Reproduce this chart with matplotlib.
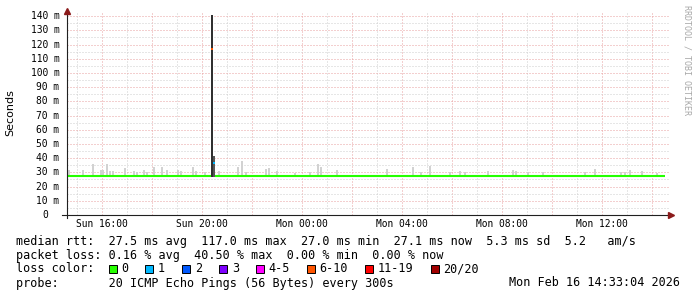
import numpy as np
import matplotlib
matplotlib.use('Agg')
import matplotlib.pyplot as plt
from matplotlib.patches import Rectangle
from matplotlib.ticker import MultipleLocator
import matplotlib.transforms as mtransforms

# Datos (horas contadas desde el domingo 00:00, valores en ms)
horas_humo = [14.68, 15.24, 15.64, 15.96, 16.04, 16.20, 16.32, 16.44, 16.92, 17.28,
              17.40, 17.68, 17.80, 18.08, 18.40, 18.60, 19.04, 19.16, 19.64, 19.76,
              20.12, 20.68, 21.44, 21.60, 21.76, 22.56, 22.68, 23.00, 23.72, 24.32,
              24.64, 24.76, 25.40, 27.40, 28.44, 28.76, 29.12, 29.92, 30.32, 30.52,
              31.44, 32.44, 32.56, 33.04, 33.64, 35.32, 35.72, 36.76, 36.92, 37.12,
              37.60, 38.20]
tope_humo = [31.6, 32.0, 35.9, 32.0, 32.0, 35.7, 31.0, 31.0, 33.0, 31.0,
             30.5, 31.6, 30.5, 34.0, 33.6, 32.0, 32.0, 31.0, 33.6, 31.0,
             30.0, 31.0, 34.0, 38.0, 30.5, 32.4, 33.0, 31.0, 29.4, 30.0,
             35.7, 34.0, 31.7, 32.4, 33.8, 30.0, 34.7, 30.5, 31.3, 30.5,
             31.3, 31.7, 31.0, 30.5, 30.0, 30.0, 32.4, 30.5, 30.5, 31.7,
             31.0, 29.3]
mediana_t = [14.62, 20.36, 20.44, 20.52, 38.52]
mediana_v = [27.3, 27.3, np.nan, 27.2, 27.2]
# muestras con perdida de paquetes
pico_t = [20.36, 20.44]
pico_tope = [140.5, 41.5]
pico_mediana = [117.0, 36.6]
pico_color = ['#ff5500', '#00b8ff']
pico_gris = ['#303030', '#555555']

ticks_x = [16, 20, 24, 28, 32, 36]
etiquetas_x = ['Sun 16:00', 'Sun 20:00', 'Mon 00:00', 'Mon 04:00', 'Mon 08:00', 'Mon 12:00']
ticks_y = list(range(0, 141, 10))

perdida_etiquetas = ['0', '1', '2', '3', '4-5', '6-10', '11-19', '20/20']
perdida_colores = ['#26ff00', '#00b8ff', '#0059ff', '#7e00ff', '#ff00ff', '#ff5500', '#ff0000', '#a10000']

W, H = 697, 297
def fx(px):
    return px / W
def fy(py):
    return 1 - py / H

fig = plt.figure(figsize=(W / 100, H / 100), dpi=100)
fig.patch.set_facecolor('white')
ax = fig.add_axes([fx(67), fy(215), fx(669) - fx(67), fy(12) - fy(215)])
ax.set_xlim(14.6, 38.68)
ax.set_ylim(0, 142.9)

# grilla punteada
ax.xaxis.set_major_locator(MultipleLocator(2))
ax.xaxis.set_minor_locator(MultipleLocator(1))
ax.yaxis.set_major_locator(MultipleLocator(10))
ax.yaxis.set_minor_locator(MultipleLocator(5))
ax.grid(which='major', color='#e8a0a0', lw=0.72, ls=(0, (1, 2)), snap=True)
ax.grid(which='minor', color='#cfcfcf', lw=0.72, ls=(0, (1, 2)), snap=True)
ax.set_axisbelow(True)
ax.tick_params(which='both', length=0, labelleft=False, labelbottom=False)
for s in ax.spines.values():
    s.set_visible(False)

# humo
ancho = 5 / 60
base = 26.5
ax.bar(horas_humo, np.array(tope_humo) - base, bottom=base, width=ancho,
       color='#d2d2d2', edgecolor='none', align='center')

# pico con perdidas
for t, tope, med, col, gris in zip(pico_t, pico_tope, pico_mediana, pico_color, pico_gris):
    ax.bar(t, tope - base, bottom=base, width=ancho, align='edge', color=gris, edgecolor='none')
    ax.bar(t, 1.2, bottom=med - 0.6, width=ancho, align='edge', color=col, edgecolor='none')

# mediana
ax.plot(mediana_t, mediana_v, color='#26ff00', lw=1.5, solid_capstyle='butt')

# ejes con flechas
ax.plot([0, 0], [-0.015, 1.0], transform=ax.transAxes, clip_on=False, color='#202020', lw=0.8)
ax.plot([-0.008, 1.0], [0, 0], transform=ax.transAxes, clip_on=False, color='#202020', lw=0.8)
ax.plot(0, 1.005, marker='^', ms=4, color='#8b1a1a', transform=ax.transAxes, clip_on=False)
ax.plot(1.004, 0, marker='>', ms=4, color='#8b1a1a', transform=ax.transAxes, clip_on=False)

# etiquetas de los ejes
mono = 'DejaVu Sans Mono'
ty = mtransforms.blended_transform_factory(ax.transAxes, ax.transData)
for v in ticks_y:
    if v == 0:
        ax.text(-(7.5 + 11.4) / 602, v, '0', transform=ty, ha='right', va='center',
                fontsize=6.9, family=mono)
    else:
        ax.text(-7.5 / 602, v, '%d m' % v, transform=ty, ha='right', va='center',
                fontsize=6.9, family=mono)
tx = mtransforms.blended_transform_factory(ax.transData, ax.transAxes)
for t, lab in zip(ticks_x, etiquetas_x):
    ax.text(t, -9 / 203, lab, transform=tx, ha='center', va='center', fontsize=6.9, family=mono)

fig.text(fx(10), fy(113), 'Seconds', rotation=90, ha='center', va='center', fontsize=8)
fig.text(fx(687), fy(5), 'RRDTOOL / TOBI OETIKER', rotation=270, ha='center', va='top',
         fontsize=6, family=mono, color='#a8a8a8')

# leyenda inferior
fs = 8.5
fig.text(fx(16), fy(241), 'median rtt:  27.5 ms avg  117.0 ms max  27.0 ms min  27.1 ms now  5.3 ms sd  5.2   am/s',
         family=mono, fontsize=fs, va='center')
fig.text(fx(16), fy(255), 'packet loss: 0.16 % avg  40.50 % max  0.00 % min  0.00 % now',
         family=mono, fontsize=fs, va='center')
fig.text(fx(16), fy(269), 'loss color:', family=mono, fontsize=fs, va='center')
fig.text(fx(16), fy(283), 'probe:       20 ICMP Echo Pings (56 Bytes) every 300s',
         family=mono, fontsize=fs, va='center')
fig.text(fx(680), fy(283), 'Mon Feb 16 14:33:04 2026', family=mono, fontsize=fs, va='center', ha='right')

bx = 108.5
for lab, col in zip(perdida_etiquetas, perdida_colores):
    fig.patches.append(Rectangle((fx(bx), fy(273)), 8 / W, 8 / H, transform=fig.transFigure,
                                 facecolor=col, edgecolor='black', lw=0.7))
    fig.text(fx(bx + 12.5), fy(269), lab, family=mono, fontsize=fs, va='center')
    bx = bx + 12.5 + len(lab) * 7.1 + 17.3

fig.savefig('out.png', dpi=100)
